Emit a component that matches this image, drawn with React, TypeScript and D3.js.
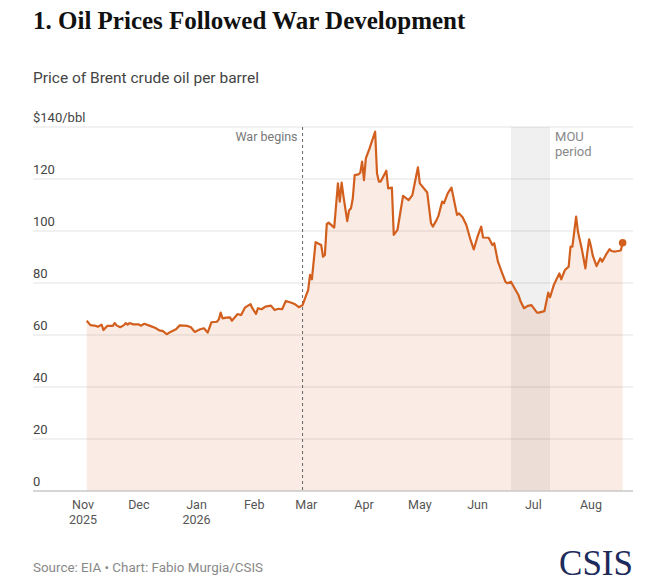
import React from "react";
import * as d3 from "d3";

// Brent crude, $/bbl
const priceDates = [
  "2025-11-03", "2025-11-05", "2025-11-06", "2025-11-08", "2025-11-09", "2025-11-11",
  "2025-11-12", "2025-11-14", "2025-11-16", "2025-11-17", "2025-11-18", "2025-11-19",
  "2025-11-21", "2025-11-23", "2025-11-24", "2025-11-25", "2025-11-26", "2025-11-28",
  "2025-12-01", "2025-12-02", "2025-12-04", "2025-12-07", "2025-12-10", "2025-12-12",
  "2025-12-14", "2025-12-16", "2025-12-18", "2025-12-21", "2025-12-23", "2025-12-27",
  "2025-12-29", "2025-12-31", "2026-01-03", "2026-01-05", "2026-01-07", "2026-01-09",
  "2026-01-12", "2026-01-13", "2026-01-14", "2026-01-15", "2026-01-17", "2026-01-19",
  "2026-01-20", "2026-01-23", "2026-01-25", "2026-01-27", "2026-01-30", "2026-01-31",
  "2026-02-02", "2026-02-03", "2026-02-05", "2026-02-07", "2026-02-10", "2026-02-12",
  "2026-02-14", "2026-02-16", "2026-02-18", "2026-02-21", "2026-02-23", "2026-02-25",
  "2026-02-27", "2026-03-01", "2026-03-02", "2026-03-03", "2026-03-04", "2026-03-06",
  "2026-03-09", "2026-03-10", "2026-03-11", "2026-03-12", "2026-03-13", "2026-03-16",
  "2026-03-18", "2026-03-19", "2026-03-20", "2026-03-21", "2026-03-23", "2026-03-24",
  "2026-03-25", "2026-03-26", "2026-03-27", "2026-03-29", "2026-03-30", "2026-03-31",
  "2026-04-01", "2026-04-02", "2026-04-04", "2026-04-07", "2026-04-08", "2026-04-09",
  "2026-04-10", "2026-04-13", "2026-04-14", "2026-04-16", "2026-04-17", "2026-04-19",
  "2026-04-20", "2026-04-22", "2026-04-25", "2026-04-27", "2026-04-30", "2026-05-01",
  "2026-05-05", "2026-05-07", "2026-05-08", "2026-05-10", "2026-05-11", "2026-05-13",
  "2026-05-14", "2026-05-16", "2026-05-18", "2026-05-21", "2026-05-22", "2026-05-24",
  "2026-05-26", "2026-05-28", "2026-05-30", "2026-06-01", "2026-06-03", "2026-06-04",
  "2026-06-07", "2026-06-09", "2026-06-10", "2026-06-12", "2026-06-14", "2026-06-16",
  "2026-06-17", "2026-06-19", "2026-06-21", "2026-06-23", "2026-06-24", "2026-06-26",
  "2026-06-28", "2026-06-30", "2026-07-03", "2026-07-04", "2026-07-07", "2026-07-09",
  "2026-07-10", "2026-07-12", "2026-07-15", "2026-07-16", "2026-07-18", "2026-07-20",
  "2026-07-21", "2026-07-22", "2026-07-24", "2026-07-25", "2026-07-27", "2026-07-29",
  "2026-07-30", "2026-07-31", "2026-08-01", "2026-08-02", "2026-08-04", "2026-08-06",
  "2026-08-07", "2026-08-09", "2026-08-11", "2026-08-12", "2026-08-14", "2026-08-17",
  "2026-08-18",
];

const priceValues = [
  65.5, 63.8, 63.7, 63.5, 63.2, 64.0,
  61.9, 63.5, 63.5, 63.5, 64.6, 63.7,
  63.0, 63.8, 64.6, 64.0, 64.6, 64.1,
  64.1, 63.6, 64.3, 63.5, 62.7, 61.8,
  61.5, 60.3, 61.2, 62.2, 63.7, 63.5,
  63.0, 61.2, 62.2, 62.6, 60.9, 64.9,
  65.1, 66.0, 68.6, 66.4, 66.7, 66.8,
  65.5, 68.0, 67.7, 70.5, 71.9, 70.3,
  68.1, 70.3, 69.9, 70.9, 71.3, 69.6,
  70.1, 69.9, 73.1, 72.4, 71.8, 70.7,
  71.5, 75.4, 77.3, 83.1, 81.4, 95.7,
  94.6, 90.1, 90.8, 102.7, 103.2, 101.3,
  118.3, 111.3, 118.6, 113.2, 103.8, 108.0,
  108.7, 112.6, 121.5, 121.8, 122.4, 126.7,
  119.6, 127.9, 131.8, 138.2, 122.2, 119.0,
  119.0, 123.2, 116.4, 116.7, 98.5, 100.4,
  104.8, 113.5, 111.9, 113.8, 124.5, 118.3,
  114.8, 103.0, 101.7, 104.2, 105.8, 111.3,
  110.7, 114.5, 116.7, 106.2, 106.8, 105.3,
  102.3, 97.2, 92.9, 97.8, 101.7, 97.5,
  97.4, 94.6, 95.3, 88.2, 84.3, 80.5,
  79.9, 80.5, 77.9, 75.4, 73.2, 70.3,
  71.2, 71.5, 68.6, 68.6, 69.2, 76.3,
  74.5, 79.2, 83.7, 81.4, 85.0, 86.3,
  94.0, 94.0, 105.5, 99.7, 93.3, 85.6,
  91.7, 96.8, 94.0, 90.4, 86.5, 89.5,
  88.2, 90.8, 93.0, 92.3, 92.1, 92.5,
  95.5,
];

const monthTicks = [
  "2025-11-01", "2025-12-01", "2026-01-01", "2026-02-01", "2026-03-01",
  "2026-04-01", "2026-05-01", "2026-06-01", "2026-07-01", "2026-08-01",
];
const yearLabels: Record<string, string> = { "2025-11-01": "2025", "2026-01-01": "2026" };
const yTicks = [0, 20, 40, 60, 80, 100, 120, 140];

const warStart = "2026-02-27";
const mouPeriod = ["2026-06-19", "2026-07-10"];

const W = 664;
const H = 586;
const LEFT = 33;
const RIGHT = 633;
const LINE = "#d25f1e";
const SANS = "Roboto, 'Noto Sans', sans-serif";

export default function App() {
  const parse = d3.timeParse("%Y-%m-%d");
  const data = priceDates.map((d, i) => ({ date: parse(d)!, value: priceValues[i] }));

  const x = d3
    .scaleTime()
    .domain([parse("2025-11-01")!, parse("2026-08-01")!])
    .range([83, 591]);
  const y = d3.scaleLinear().domain([0, 140]).range([491, 127]);

  const area = d3
    .area<{ date: Date; value: number }>()
    .x((d) => x(d.date))
    .y0(y(0))
    .y1((d) => y(d.value));
  const line = d3
    .line<{ date: Date; value: number }>()
    .x((d) => x(d.date))
    .y((d) => y(d.value));

  const last = data[data.length - 1];
  const warX = x(parse(warStart)!);
  const mouX0 = x(parse(mouPeriod[0])!);
  const mouX1 = x(parse(mouPeriod[1])!);

  return (
    <svg
      width={W}
      height={H}
      style={{ position: "absolute", left: 0, top: 0, background: "#fff" }}
    >
      <text
        x={LEFT}
        y={29}
        fontFamily="'Liberation Serif', serif"
        fontWeight="bold"
        fontSize={25}
        fill="#111"
      >
        1. Oil Prices Followed War Development
      </text>
      <text x={LEFT} y={83} fontFamily={SANS} fontSize={15.5} fill="#444">
        Price of Brent crude oil per barrel
      </text>

      {/* grid */}
      {yTicks.slice(1).map((t) => (
        <line key={t} x1={LEFT} x2={RIGHT} y1={y(t)} y2={y(t)} stroke="#e3e3e3" strokeWidth={1} />
      ))}

      {/* MOU band */}
      <rect x={mouX0} y={y(140)} width={mouX1 - mouX0} height={y(0) - y(140)} fill="#000" fillOpacity={0.06} />

      <path d={area(data)!} fill={LINE} fillOpacity={0.12} />

      <line x1={LEFT} x2={RIGHT} y1={y(0)} y2={y(0)} stroke="#c8c8c8" strokeWidth={1.5} />

      {/* war begins */}
      <line
        x1={warX}
        x2={warX}
        y1={y(140)}
        y2={y(0)}
        stroke="#666"
        strokeWidth={1}
        strokeDasharray="3,3"
      />
      <text x={warX - 5} y={141} textAnchor="end" fontFamily={SANS} fontSize={12.5} fill="#777">
        War begins
      </text>
      <text fontFamily={SANS} fontSize={13} fill="#888">
        <tspan x={mouX1 + 5} y={141}>MOU</tspan>
        <tspan x={mouX1 + 5} y={156}>period</tspan>
      </text>

      <path d={line(data)!} fill="none" stroke={LINE} strokeWidth={2.2} strokeLinejoin="round" />
      <circle cx={x(last.date)} cy={y(last.value)} r={3.8} fill={LINE} />

      {/* y labels */}
      {yTicks.map((t) => (
        <text key={t} x={LEFT} y={y(t) - 5} fontFamily={SANS} fontSize={13} fill="#444">
          {t === 140 ? "$140/bbl" : t}
        </text>
      ))}

      {/* x labels */}
      {monthTicks.map((m) => {
        const d = parse(m)!;
        return (
          <text key={m} x={x(d)} textAnchor="middle" fontFamily={SANS} fontSize={12.5} fill="#555">
            <tspan x={x(d)} y={509}>{d3.timeFormat("%b")(d)}</tspan>
            {yearLabels[m] && (
              <tspan x={x(d)} y={524}>{yearLabels[m]}</tspan>
            )}
          </text>
        );
      })}

      <text x={LEFT} y={572} fontFamily={SANS} fontSize={13.4} fill="#888">
        Source: EIA • Chart: Fabio Murgia/CSIS
      </text>
      <text
        x={RIGHT}
        y={575}
        textAnchor="end"
        fontFamily="'Liberation Serif', serif"
        fontSize={35}
        fill="#1c2b5c"
      >
        CSIS
      </text>
    </svg>
  );
}
